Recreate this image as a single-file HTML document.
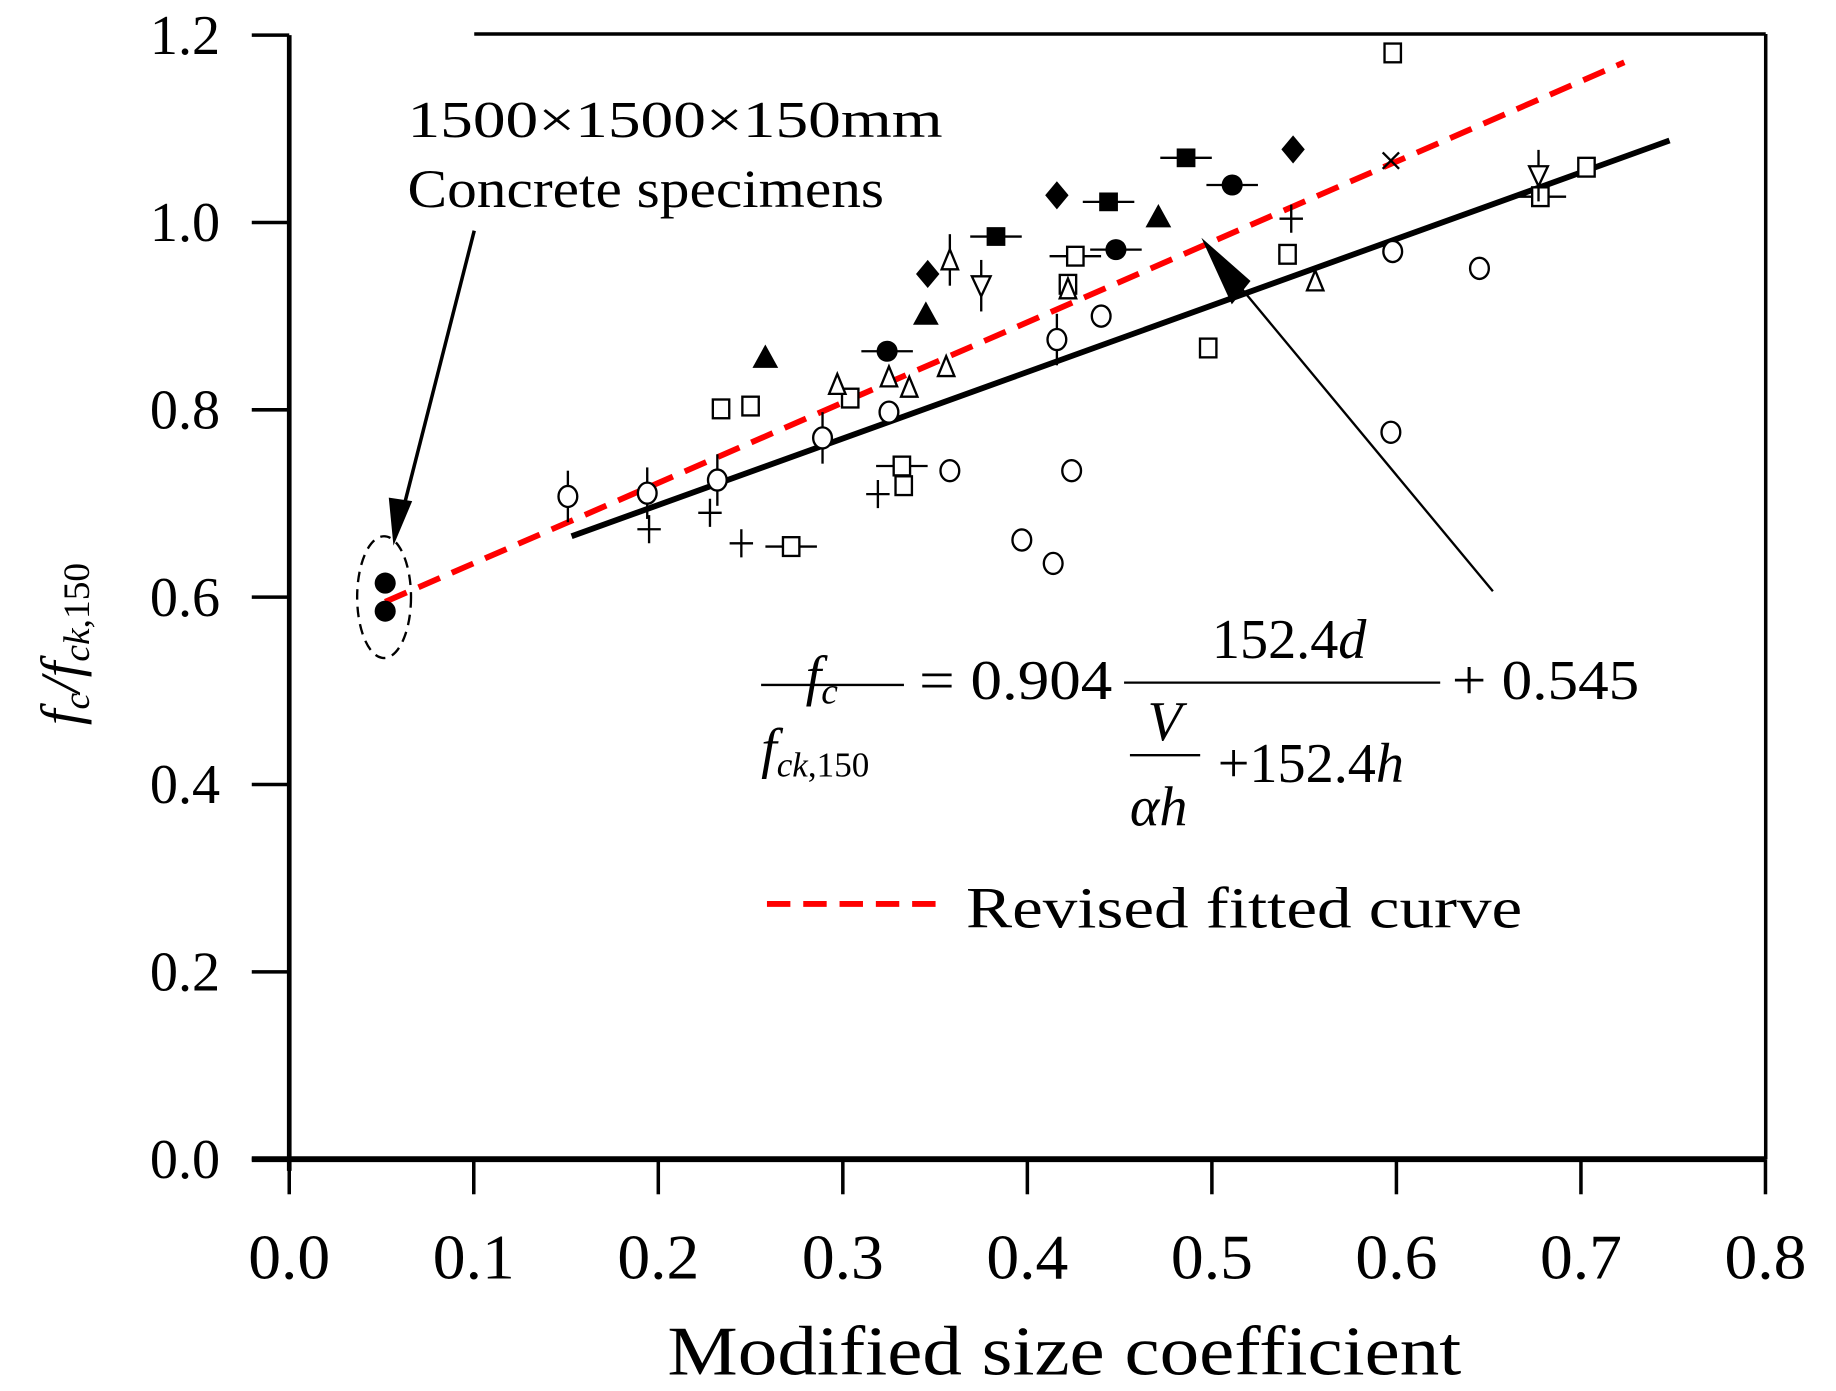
<!DOCTYPE html>
<html><head><meta charset="utf-8"><style>
html,body{margin:0;padding:0;background:#fff}
svg{display:block}
text{font-family:"Liberation Serif",serif;fill:#000}
</style></head><body>
<svg id="chart" width="1836" height="1391" viewBox="0 0 1568 1188" xmlns="http://www.w3.org/2000/svg">
<g id="frame">
<line x1="247" y1="30" x2="247" y2="1000" stroke="#000" stroke-width="4"/>
<line x1="215" y1="990" x2="1508" y2="990" stroke="#000" stroke-width="5"/>
<line x1="405" y1="29" x2="1508" y2="29" stroke="#000" stroke-width="3"/>
<line x1="1508" y1="29" x2="1508" y2="990" stroke="#000" stroke-width="3"/>
</g>
<g id="axes"></g>
<g id="lines"></g>
<g id="marks"></g>
<g>
<text x="348" y="117" font-size="44" textLength="457" lengthAdjust="spacingAndGlyphs">1500×1500×150mm</text>
<text x="348" y="177" font-size="46" textLength="407" lengthAdjust="spacingAndGlyphs">Concrete specimens</text>
<line x1="405" y1="197" x2="343" y2="440" stroke="#000" stroke-width="3"/>
<polygon points="336,466 332,425 352,428" fill="#000"/>
<ellipse cx="328" cy="510" rx="23" ry="52" fill="none" stroke="#000" stroke-width="2" stroke-dasharray="9,6"/>
</g>
<g>
<line x1="1275" y1="505" x2="1055" y2="240" stroke="#000" stroke-width="2"/>
<polygon points="1026,203 1068,240 1052,260" fill="#000"/>
</g>
<g font-style="italic">
<text x="688" y="593" font-size="48">f<tspan font-size="32" dy="8">c</tspan></text>
<line x1="650" y1="585" x2="772" y2="585" stroke="#000" stroke-width="2"/>
<text x="650" y="655" font-size="48">f<tspan font-size="30" dy="8">ck</tspan><tspan font-size="30" font-style="normal">,150</tspan></text>
<text x="785" y="597" font-size="48" font-style="normal" textLength="165" lengthAdjust="spacingAndGlyphs">= 0.904</text>
<text x="1035" y="562" font-size="48" font-style="normal">152.4<tspan font-style="italic">d</tspan></text>
<line x1="960" y1="583" x2="1230" y2="583" stroke="#000" stroke-width="2"/>
<text x="980" y="632" font-size="48">V</text>
<line x1="965" y1="645" x2="1025" y2="645" stroke="#000" stroke-width="2"/>
<text x="965" y="705" font-size="48">αh</text>
<text x="1040" y="668" font-size="48" font-style="normal">+152.4<tspan font-style="italic">h</tspan></text>
<text x="1240" y="597" font-size="48" font-style="normal" textLength="160" lengthAdjust="spacingAndGlyphs">+ 0.545</text>
</g>
<g>
<line x1="655" y1="772" x2="805" y2="772" stroke="#f00" stroke-width="5" stroke-dasharray="20,11"/>
<text x="825" y="792" font-size="50" textLength="475" lengthAdjust="spacingAndGlyphs">Revised fitted curve</text>
</g>
<text x="570" y="1174" font-size="60" textLength="678" lengthAdjust="spacingAndGlyphs">Modified size coefficient</text>
<text transform="translate(68,550) rotate(-90)" font-size="48" text-anchor="middle" font-style="italic">f<tspan font-size="32" dy="8">c</tspan><tspan dy="-8">/f</tspan><tspan font-size="32" dy="8">ck</tspan><tspan font-size="32" font-style="normal">,150</tspan></text>
</svg>
<script>
const xTicks=[0,0.1,0.2,0.3,0.4,0.5,0.6,0.7,0.8];
const yTicks=[0,0.2,0.4,0.6,0.8,1.0,1.2];
const solidLine=[[0.153,0.665],[0.748,1.0875]];
const dashedLine=[[0.052,0.595],[0.7235,1.171]];
const filledCircle=[[0.052,0.615],[0.052,0.585],[0.324,0.8625],[0.448,0.971],[0.511,1.04]];
const filledCircleBar=[0,0,1,1,1];
const filledTriangle=[[0.258,0.856],[0.345,0.902],[0.471,1.006]];
const filledDiamond=[[0.346,0.945],[0.416,1.029],[0.544,1.078]];
const filledSquare=[[0.383,0.985],[0.444,1.022],[0.486,1.069]];
const openSquare=[[0.234,0.801],[0.25,0.804],[0.304,0.8125],[0.332,0.74],[0.333,0.719],[0.272,0.654],[0.426,0.964],[0.422,0.934],[0.498,0.866],[0.541,0.966],[0.598,1.181],[0.678,1.0275],[0.703,1.059]];
const openSquareBar=[0,0,0,1,0,1,1,0,0,0,0,1,0];
const openCircle=[[0.151,0.7075],[0.194,0.711],[0.232,0.725],[0.289,0.77],[0.325,0.7975],[0.358,0.735],[0.397,0.661],[0.414,0.636],[0.424,0.735],[0.416,0.875],[0.44,0.9],[0.598,0.969],[0.597,0.776],[0.645,0.951]];
const openCircleBar=[1,1,1,1,0,0,0,0,0,1,0,0,0,0];
const openTriangle=[[0.297,0.827],[0.325,0.835],[0.336,0.824],[0.356,0.846],[0.358,0.96],[0.422,0.929],[0.556,0.9375]];
const invTriangle=[[0.375,0.9325],[0.677,1.05]];
const plusPts=[[0.195,0.6725],[0.228,0.69],[0.245,0.6575],[0.319,0.71],[0.543,1.004]];
const crossPts=[[0.597,1.066]];

const NS="http://www.w3.org/2000/svg";
const X=v=>247+v*1576;
const Y=v=>990-v*800;
function mk(tag,attrs,parent){const e=document.createElementNS(NS,tag);for(const k in attrs)e.setAttribute(k,attrs[k]);parent.appendChild(e);return e;}
const axes=document.getElementById('axes');
xTicks.forEach(t=>{
  const l=mk('line',{x1:X(t),y1:990,x2:X(t),y2:1020,stroke:'#000','stroke-width':3},axes);
  
  
  const tx=mk('text',{x:X(t),y:1092,'font-size':54,'text-anchor':'middle',textLength:70,lengthAdjust:'spacingAndGlyphs'},axes);
  tx.textContent=t.toFixed(1);
  
  
});
yTicks.forEach(t=>{
  const l=mk('line',{x1:215,y1:Y(t),x2:247,y2:Y(t),stroke:'#000','stroke-width':3},axes);
  
  
  const tx=mk('text',{x:188,y:Y(t)+16,'font-size':48,'text-anchor':'end'},axes);
  tx.textContent=t.toFixed(1);
  
  
});
const lines=document.getElementById('lines');
const s=mk('line',{x1:X(solidLine[0][0]),y1:Y(solidLine[0][1]),x2:X(solidLine[1][0]),y2:Y(solidLine[1][1]),stroke:'#000','stroke-width':5},lines);


const d=mk('line',{x1:X(dashedLine[0][0]),y1:Y(dashedLine[0][1]),x2:X(dashedLine[1][0]),y2:Y(dashedLine[1][1]),stroke:'#f00','stroke-width':5,'stroke-dasharray':'20,11'},lines);


const marks=document.getElementById('marks');
const sw={stroke:'#000','stroke-width':2};
function hbar(x,y){mk('line',Object.assign({x1:x-22,y1:y,x2:x+22,y2:y},sw),marks);}
function vbar(x,y){mk('line',Object.assign({x1:x,y1:y-22,x2:x,y2:y+22},sw),marks);}
filledCircle.forEach((p,i)=>{const x=X(p[0]),y=Y(p[1]);if(filledCircleBar[i])hbar(x,y);
  const e=mk('ellipse',{cx:x,cy:y,rx:9,ry:9,fill:'#000'},marks);
  
  });
filledTriangle.forEach(p=>{const x=X(p[0]),y=Y(p[1]);
  const e=mk('polygon',{points:`${x},${y-11} ${x-11},${y+9} ${x+11},${y+9}`,fill:'#000'},marks);
  
  });
filledDiamond.forEach(p=>{const x=X(p[0]),y=Y(p[1]);
  const e=mk('polygon',{points:`${x},${y-12} ${x+10},${y} ${x},${y+12} ${x-10},${y}`,fill:'#000'},marks);
  
  });
filledSquare.forEach(p=>{const x=X(p[0]),y=Y(p[1]);hbar(x,y);
  const e=mk('rect',{x:x-8,y:y-8,width:16,height:16,fill:'#000'},marks);
  
  });
openSquare.forEach((p,i)=>{const x=X(p[0]),y=Y(p[1]);if(openSquareBar[i])hbar(x,y);
  const e=mk('rect',Object.assign({x:x-7,y:y-8,width:14,height:16,fill:'#fff'},sw),marks);
  
  });
openCircle.forEach((p,i)=>{const x=X(p[0]),y=Y(p[1]);if(openCircleBar[i])vbar(x,y);
  const e=mk('ellipse',Object.assign({cx:x,cy:y,rx:8,ry:9,fill:'#fff'},sw),marks);
  
  });
openTriangle.forEach((p,i)=>{const x=X(p[0]),y=Y(p[1]);if(i===4)vbar(x,y);
  const e=mk('polygon',Object.assign({points:`${x},${y-9} ${x-7},${y+8} ${x+7},${y+8}`,fill:'#fff'},sw),marks);
  
  });
invTriangle.forEach(p=>{const x=X(p[0]),y=Y(p[1]);vbar(x,y);
  const e=mk('polygon',Object.assign({points:`${x},${y+9} ${x-8},${y-8} ${x+8},${y-8}`,fill:'#fff'},sw),marks);
  
  });
plusPts.forEach(p=>{const x=X(p[0]),y=Y(p[1]);
  const e=mk('path',Object.assign({d:`M${x-10},${y}H${x+10}M${x},${y-12}V${y+12}`,fill:'none'},sw),marks);
  
  });
crossPts.forEach(p=>{const x=X(p[0]),y=Y(p[1]);
  const e=mk('path',Object.assign({d:`M${x-7},${y-7}L${x+7},${y+7}M${x+7},${y-7}L${x-7},${y+7}`,fill:'none'},sw),marks);
  
  });
</script>
</body></html>
